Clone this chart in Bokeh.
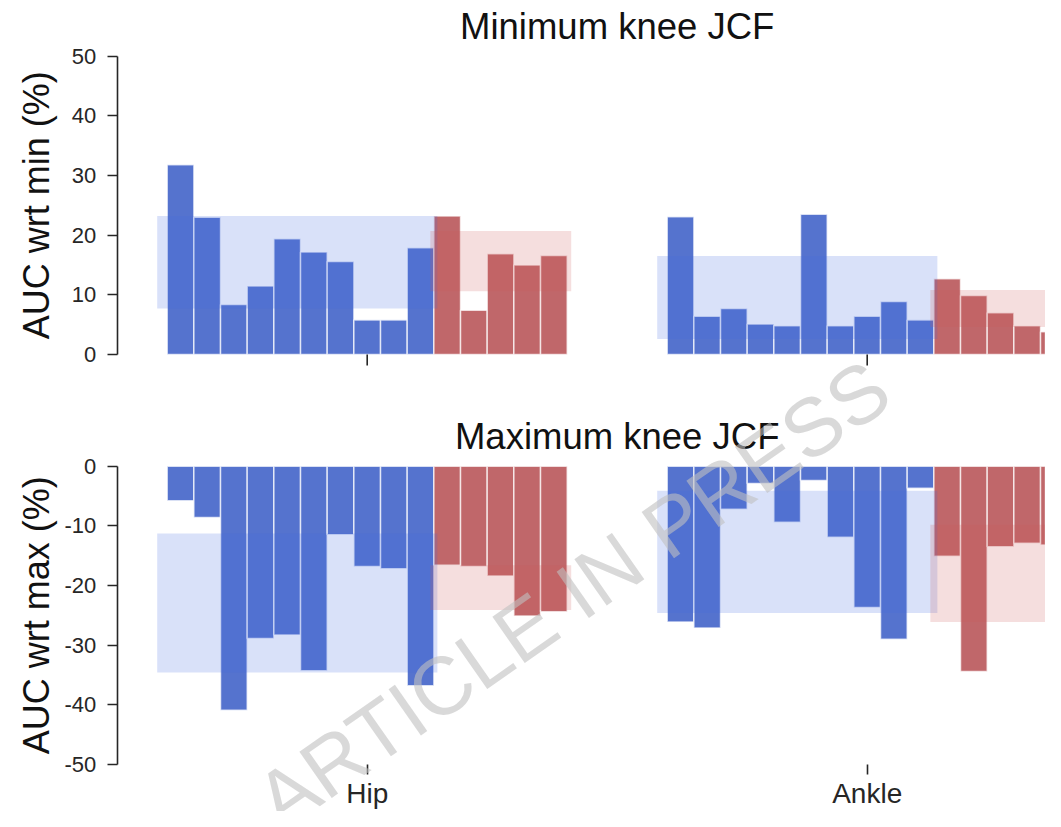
import math
from bokeh.plotting import figure
from bokeh.models import Range1d, FixedTicker, Label, LinearAxis
from bokeh.embed import file_html
from bokeh.resources import INLINE

# ---------------- data ----------------
categories = ["Hip", "Ankle"]

# Minimum knee JCF (AUC wrt min, %) : 10 blue subjects + 5 red subjects per joint
min_hip_blue = [31.8, 23.0, 8.4, 11.5, 19.4, 17.2, 15.6, 5.8, 5.8, 17.9]
min_hip_red = [23.2, 7.4, 16.9, 15.0, 16.6]
min_ankle_blue = [23.1, 6.4, 7.7, 5.1, 4.8, 23.5, 4.8, 6.4, 8.9, 5.8]
min_ankle_red = [12.7, 9.9, 7.0, 4.8, 3.8]

# Maximum knee JCF (AUC wrt max, %)
max_hip_blue = [-5.8, -8.6, -40.9, -28.9, -28.3, -34.3, -11.5, -16.8, -17.2, -36.8]
max_hip_red = [-16.6, -16.8, -18.4, -25.1, -24.4]
max_ankle_blue = [-26.1, -27.1, -7.2, -2.9, -9.4, -2.4, -11.9, -23.7, -29.0, -3.7]
max_ankle_red = [-15.1, -34.4, -13.5, -12.9, -13.2]

# shaded bands (low, high) per joint [Hip, Ankle]
min_blue_band_lo = [7.7, 2.6]
min_blue_band_hi = [23.2, 16.5]
min_red_band_lo = [10.6, 4.6]
min_red_band_hi = [20.7, 10.8]
max_blue_band_lo = [-34.6, -24.6]
max_blue_band_hi = [-11.3, -4.1]
max_red_band_lo = [-24.1, -26.1]
max_red_band_hi = [-16.6, -9.8]

min_ticks = [0, 10, 20, 30, 40, 50]
min_tick_labels = ["0", "10", "20", "30", "40", "50"]
max_ticks = [-50, -40, -30, -20, -10, 0]
max_tick_labels = ["-50", "-40", "-30", "-20", "-10", "0"]

titles = ["Minimum knee JCF", "Maximum knee JCF"]
ylabels = ["AUC wrt min (%)", "AUC wrt max (%)"]
watermark = "ARTICLE IN PRESS"

# ---------------- layout / style ----------------
W, H = 1045, 811
X_HIP_PX, X_UNIT_PX = 366.7, 500.0
TOP_ZERO_PX, BOT_ZERO_PX = 354.0, 465.7
Y_UNIT_PX = 298.3 / 50
AX_X = -0.5            # x position of the left spines
FONT = "Liberation Sans"
INK = "#262626"
BLUE = "#5573ce"
RED = "#c0676a"
BLUE_BAND = "royalblue"
RED_BAND = "indianred"
GROUP_W = 0.8

p = figure(width=W, height=H,
           x_range=Range1d(-X_HIP_PX / X_UNIT_PX, (W - X_HIP_PX) / X_UNIT_PX),
           y_range=Range1d(-(H - BOT_ZERO_PX) / Y_UNIT_PX, BOT_ZERO_PX / Y_UNIT_PX),
           x_axis_location=None, y_axis_location=None,
           output_backend="svg", toolbar_location=None,
           min_border=0)
p.extra_y_ranges = {"top": Range1d(-(H - TOP_ZERO_PX) / Y_UNIT_PX,
                                   TOP_ZERO_PX / Y_UNIT_PX)}
p.outline_line_color = None
p.xgrid.visible = False
p.ygrid.visible = False
p.background_fill_color = "white"
p.border_fill_color = "white"


def centers(g, start, n, slot):
    return [g - GROUP_W / 2 + (start + i + 0.5) * slot for i in range(n)]


def draw_panel(rng, blues, reds, blo, bhi, rlo, rhi):
    for g, (bv, rv) in enumerate(zip(blues, reds)):
        n = len(bv) + len(rv)
        slot = GROUP_W / n
        xb = centers(g, 0, len(bv), slot)
        xr = centers(g, len(bv), len(rv), slot)
        for xs, vals, col in ((xb, bv, BLUE), (xr, rv, RED)):
            p.vbar(x=xs, width=slot, top=[max(v, 0) for v in vals],
                   bottom=[min(v, 0) for v in vals], fill_color=col,
                   line_color="white", line_width=1.5, line_alpha=0.7,
                   y_range_name=rng)
        start = g - GROUP_W / 2
        split = start + len(bv) * slot
        end = g + GROUP_W / 2
        p.quad(left=[start - 0.02], right=[split + 0.007],
               bottom=[blo[g]], top=[bhi[g]], fill_color=BLUE_BAND,
               fill_alpha=0.2, line_color=None, y_range_name=rng)
        p.quad(left=[split - 0.007], right=[end + 0.008],
               bottom=[rlo[g]], top=[rhi[g]], fill_color=RED_BAND,
               fill_alpha=0.2, line_color=None, y_range_name=rng)


draw_panel("top", [min_hip_blue, min_ankle_blue], [min_hip_red, min_ankle_red],
           min_blue_band_lo, min_blue_band_hi, min_red_band_lo, min_red_band_hi)
draw_panel("default", [max_hip_blue, max_ankle_blue], [max_hip_red, max_ankle_red],
           max_blue_band_lo, max_blue_band_hi, max_red_band_lo, max_red_band_hi)


def style_y(ax, ticks, labels):
    ax.ticker = FixedTicker(ticks=ticks)
    ax.major_label_overrides = dict(zip(ticks, labels))
    ax.axis_line_color = INK
    ax.axis_line_width = 1.6
    ax.major_tick_line_color = INK
    ax.major_tick_line_width = 1.6
    ax.major_tick_out = 10
    ax.major_tick_in = 0
    ax.minor_tick_line_color = None
    ax.major_label_standoff = 11
    ax.major_label_text_font = FONT
    ax.major_label_text_font_size = "22px"
    ax.major_label_text_color = INK


y_top = LinearAxis(y_range_name="top", fixed_location=AX_X,
                   bounds=(min_ticks[0], min_ticks[-1]))
style_y(y_top, min_ticks, min_tick_labels)
p.add_layout(y_top, "left")
y_bot = LinearAxis(fixed_location=AX_X, bounds=(max_ticks[0], max_ticks[-1]))
style_y(y_bot, max_ticks, max_tick_labels)
p.add_layout(y_bot, "left")

# x axis of the lower panel (with the joint labels)
x_bot = LinearAxis(fixed_location=max_ticks[0])
x_bot.ticker = FixedTicker(ticks=list(range(len(categories))))
x_bot.major_label_overrides = {i: c for i, c in enumerate(categories)}
x_bot.axis_line_color = None
x_bot.major_tick_line_color = INK
x_bot.major_tick_line_width = 1.6
x_bot.major_tick_out = 10
x_bot.major_tick_in = 0
x_bot.minor_tick_line_color = None
x_bot.major_label_text_font = FONT
x_bot.major_label_text_color = INK
x_bot.major_label_standoff = 3
x_bot.major_label_text_font_size = "28px"
p.add_layout(x_bot, "below")

# tick marks of the upper panel's (unlabelled) x axis
tick_len = 11 / Y_UNIT_PX
p.segment(x0=list(range(len(categories))), x1=list(range(len(categories))),
          y0=[0] * len(categories), y1=[-tick_len] * len(categories),
          line_color=INK, line_width=1.6, y_range_name="top")

# titles and y labels
title_gap = 29.5 / Y_UNIT_PX
for rng, top_val, mid_val, title, ylab in (
        ("top", min_ticks[-1], (min_ticks[0] + min_ticks[-1]) / 2, titles[0], ylabels[0]),
        ("default", max_ticks[-1], (max_ticks[0] + max_ticks[-1]) / 2, titles[1], ylabels[1])):
    p.add_layout(Label(x=(len(categories) - 1) / 2, y=top_val + title_gap,
                       y_range_name=rng, text=title, text_align="center",
                       text_baseline="alphabetic", text_font=FONT,
                       text_font_size="36.5px", text_color="#111111"))
    p.add_layout(Label(x=36, x_units="screen", y=mid_val, y_range_name=rng,
                       text=ylab, angle=math.pi / 2, text_align="center",
                       text_baseline="alphabetic", text_font=FONT,
                       text_font_size="36px", text_color="#111111"))

# diagonal watermark
p.add_layout(Label(x=572, y=H - 594, x_units="screen", y_units="screen",
                   text=watermark, angle=math.radians(35),
                   text_align="center", text_baseline="middle",
                   text_font=FONT, text_font_size="82px",
                   text_color="#c0c0c0", text_alpha=0.6))

open("out.html", "w").write(file_html(p, INLINE))
